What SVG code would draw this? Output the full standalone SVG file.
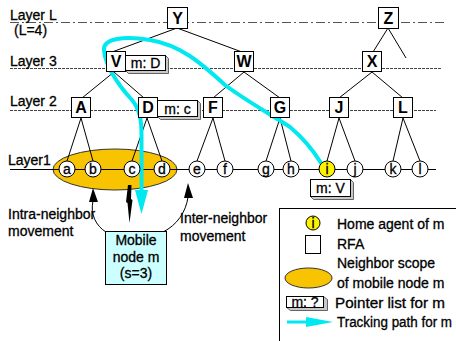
<svg xmlns="http://www.w3.org/2000/svg" width="456" height="341" viewBox="0 0 456 341">
<defs>
<style>
text{font-family:"Liberation Sans",Arial,sans-serif;fill:#000;stroke:#000;stroke-width:0.3}
.lbl{font-size:14px}
.nl{font-size:16px;text-anchor:middle;font-weight:bold;stroke-width:0}
.cl{font-size:14px;text-anchor:middle}
.pl{font-size:14px;text-anchor:middle}
.box{fill:#fff;stroke:#000;stroke-width:1}
.cir{fill:#fff;stroke:#000;stroke-width:1}
.edge{stroke:#000;stroke-width:1;fill:none}
.ext{fill:#c8c8c8;stroke:#444;stroke-width:0.8}
.track{stroke:#00e8f0;stroke-width:4;fill:none;stroke-linecap:round;stroke-linejoin:round}
</style>
</defs>
<rect width="456" height="341" fill="#fff"/>
<!-- neighbor scope -->
<ellipse id="scope" cx="115" cy="169.5" rx="62" ry="20.5" fill="#f8c300" stroke="#333" stroke-width="1"/>
<!-- layer lines and labels -->
<g id="layers">
<line x1="10" y1="22.5" x2="444" y2="22.5" stroke="#555" stroke-width="1.2" stroke-dasharray="9,3,2,3"/>
<line x1="10" y1="68.5" x2="441" y2="68.5" stroke="#444" stroke-width="1" stroke-dasharray="3,1"/>
<line x1="10" y1="110.5" x2="436" y2="110.5" stroke="#444" stroke-width="1" stroke-dasharray="3,1"/>
<line x1="10" y1="169.5" x2="436" y2="169.5" stroke="#000" stroke-width="1"/>
<text class="lbl" x="10" y="20">Layer L</text>
<text class="lbl" x="14" y="35">(L=4)</text>
<text class="lbl" x="10" y="66">Layer 3</text>
<text class="lbl" x="10" y="106">Layer 2</text>
<text class="lbl" x="8" y="165">Layer1</text>
</g>
<!-- connectors -->
<g id="connectors">
<line class="edge" x1="177" y1="28" x2="112" y2="52"/>
<line class="edge" x1="177" y1="28" x2="242" y2="52"/>
<line class="edge" x1="388" y1="28" x2="373" y2="52"/>
<line class="edge" x1="388" y1="28" x2="406" y2="58"/>
<line class="edge" x1="114" y1="72" x2="82" y2="98"/>
<line class="edge" x1="114" y1="72" x2="144" y2="98"/>
<line class="edge" x1="244" y1="72" x2="213" y2="98"/>
<line class="edge" x1="244" y1="72" x2="280" y2="98"/>
<line class="edge" x1="372" y1="72" x2="339" y2="98"/>
<line class="edge" x1="372" y1="72" x2="403" y2="98"/>
<line class="edge" x1="81" y1="118" x2="67" y2="161"/>
<line class="edge" x1="81" y1="118" x2="93" y2="161"/>
<line class="edge" x1="147" y1="118" x2="132" y2="161"/>
<line class="edge" x1="147" y1="118" x2="162" y2="161"/>
<line class="edge" x1="213" y1="118" x2="197" y2="161"/>
<line class="edge" x1="213" y1="118" x2="225" y2="161"/>
<line class="edge" x1="280" y1="118" x2="266" y2="161"/>
<line class="edge" x1="280" y1="118" x2="291" y2="161"/>
<line class="edge" x1="339" y1="118" x2="327" y2="161"/>
<line class="edge" x1="339" y1="118" x2="355" y2="161"/>
<line class="edge" x1="403" y1="118" x2="393" y2="161"/>
<line class="edge" x1="403" y1="118" x2="420" y2="161"/>
<!-- tracking path -->
<path class="track" d="M321,163 C313,150 303,138 290,127 C270,114 245,100 225,85 C200,62 180,45 150,40 C125,36 103,38 104,50 C105,65 118,85 132,100 C140,110 141.5,120 141.5,135 L141.5,192"/>
<polygon points="135,190 148,190 141.5,214" fill="#00e8f0"/>
<!-- movement arrows -->
<path class="edge" d="M106,232 C96,226 90,214 93,201"/>
<polygon points="93,188 89,202 98,202" fill="#000"/>
<path class="edge" d="M163,232 C177,225 186,212 188,197"/>
<polygon points="188,183 184,198 193,198" fill="#000"/>
<polygon points="128,185 131.5,185 131,199 132.5,200 129.5,223 127.5,203 126,202" fill="#000"/>
</g>
<!-- layer L nodes -->
<g id="node-Y"><rect class="box" x="167.5" y="7.5" width="20" height="21"/><text class="nl" x="177.5" y="24">Y</text></g>
<g id="node-Z"><rect class="box" x="378.5" y="7.5" width="20" height="21"/><text class="nl" x="388.5" y="24">Z</text></g>
<!-- layer 3 -->
<g id="node-V"><rect class="box" x="106.5" y="51.5" width="19" height="20"/><text class="nl" x="116" y="67">V</text></g>
<g id="ptr-V"><polygon class="ext" points="165.5,55.5 168.5,58.5 168.5,73.5 128.5,73.5 125.5,70.5 165.5,70.5"/><rect class="box" x="125.5" y="55.5" width="40" height="15"/><text class="pl" x="145.5" y="68">m: D</text></g>
<g id="node-W"><rect class="box" x="234.5" y="51.5" width="19" height="20"/><text class="nl" x="244" y="67">W</text></g>
<g id="node-X"><rect class="box" x="362.5" y="51.5" width="19" height="20"/><text class="nl" x="372" y="67">X</text></g>
<!-- layer 2 -->
<g id="node-A"><rect class="box" x="71.5" y="97.5" width="19" height="20"/><text class="nl" x="81" y="113">A</text></g>
<g id="ptr-D"><polygon class="ext" points="197.5,100.5 200.5,103.5 200.5,119.5 160.5,119.5 157.5,116.5 197.5,116.5"/><rect class="box" x="157.5" y="100.5" width="40" height="16"/><text class="pl" x="177.5" y="113.5">m: c</text></g>
<g id="node-D"><rect class="box" x="138.5" y="97.5" width="19" height="20"/><text class="nl" x="148" y="113">D</text></g>
<g id="node-F"><rect class="box" x="203.5" y="97.5" width="19" height="20"/><text class="nl" x="213" y="113">F</text></g>
<g id="node-G"><rect class="box" x="270.5" y="97.5" width="19" height="20"/><text class="nl" x="280" y="113">G</text></g>
<g id="node-J"><rect class="box" x="329.5" y="97.5" width="19" height="20"/><text class="nl" x="339" y="113">J</text></g>
<g id="node-L"><rect class="box" x="393.5" y="97.5" width="19" height="20"/><text class="nl" x="403" y="113">L</text></g>
<!-- layer 1 -->
<g id="node-a"><circle class="cir" cx="67" cy="169" r="8"/><text class="cl" x="67" y="174">a</text></g>
<g id="node-b"><circle class="cir" cx="93" cy="169" r="8"/><text class="cl" x="93" y="174">b</text></g>
<g id="node-c"><circle class="cir" cx="132" cy="169" r="8"/><text class="cl" x="132" y="174">c</text></g>
<g id="node-d"><circle class="cir" cx="162" cy="169" r="8"/><text class="cl" x="162" y="174">d</text></g>
<g id="node-e"><circle class="cir" cx="197" cy="169" r="8"/><text class="cl" x="197" y="174">e</text></g>
<g id="node-f"><circle class="cir" cx="225" cy="169" r="8"/><text class="cl" x="225" y="174">f</text></g>
<g id="node-g"><circle class="cir" cx="266" cy="169" r="8"/><text class="cl" x="266" y="174">g</text></g>
<g id="node-h"><circle class="cir" cx="291" cy="169" r="8"/><text class="cl" x="291" y="174">h</text></g>
<g id="node-i"><circle cx="327" cy="169" r="8" fill="#fff200" stroke="#000"/><text class="cl" x="327" y="174">i</text></g>
<g id="node-j"><circle class="cir" cx="355" cy="169" r="8"/><text class="cl" x="355" y="174">j</text></g>
<g id="node-k"><circle class="cir" cx="393" cy="169" r="8"/><text class="cl" x="393" y="174">k</text></g>
<g id="node-l"><circle class="cir" cx="420" cy="169" r="8"/><text class="cl" x="420" y="174">l</text></g>
<g id="ptr-i"><polygon class="ext" points="350.5,179.5 353.5,182.5 353.5,199.5 313.5,199.5 310.5,196.5 350.5,196.5"/><rect class="box" x="310.5" y="179.5" width="40" height="17"/><text class="pl" x="330.5" y="193">m: V</text></g>
<!-- mobile node -->
<g id="mobile">
<rect x="105.5" y="231.5" width="61" height="53" fill="#ccffff" stroke="#000"/>
<text class="cl" x="136" y="245">Mobile</text>
<text class="cl" x="136" y="262">node m</text>
<text class="cl" x="136" y="278">(s=3)</text>
</g>
<g id="movement-labels">
<text class="lbl" x="8" y="219">Intra-neighbor</text>
<text class="lbl" x="8" y="236">movement</text>
<text class="lbl" x="180" y="223">Inter-neighbor</text>
<text class="lbl" x="180" y="241">movement</text>
</g>
<!-- legend -->
<g id="legend">
<rect x="279.5" y="208.5" width="200" height="200" fill="none" stroke="#000"/>
<circle cx="313" cy="223" r="7" fill="#fff200" stroke="#000"/>
<text class="cl" x="313" y="228" font-size="13">i</text>
<text class="lbl" x="337" y="229">Home agent of m</text>
<rect class="box" x="305.5" y="235.5" width="15" height="18"/>
<text class="lbl" x="337" y="249">RFA</text>
<ellipse cx="308.5" cy="278" rx="23.5" ry="10" fill="#f8c300" stroke="#333"/>
<text class="lbl" x="337" y="268">Neighbor scope</text>
<text class="lbl" x="337" y="288">of mobile node m</text>
<polygon class="ext" points="323.5,296.5 327.5,299.5 327.5,310.5 290.5,310.5 286.5,307.5 323.5,307.5"/>
<rect class="box" x="286.5" y="296.5" width="37" height="11"/>
<text class="pl" x="305" y="306.5" font-size="12">m: ?</text>
<text class="lbl" x="335" y="308" textLength="110" lengthAdjust="spacingAndGlyphs">Pointer list for m</text>
<line x1="287" y1="322" x2="310" y2="322" stroke="#00e8f0" stroke-width="3"/>
<polygon points="306,317 333,322 306,327" fill="#00e8f0"/>
<text class="lbl" x="337" y="327" textLength="115" lengthAdjust="spacingAndGlyphs">Tracking path for m</text>
</g>
</svg>
